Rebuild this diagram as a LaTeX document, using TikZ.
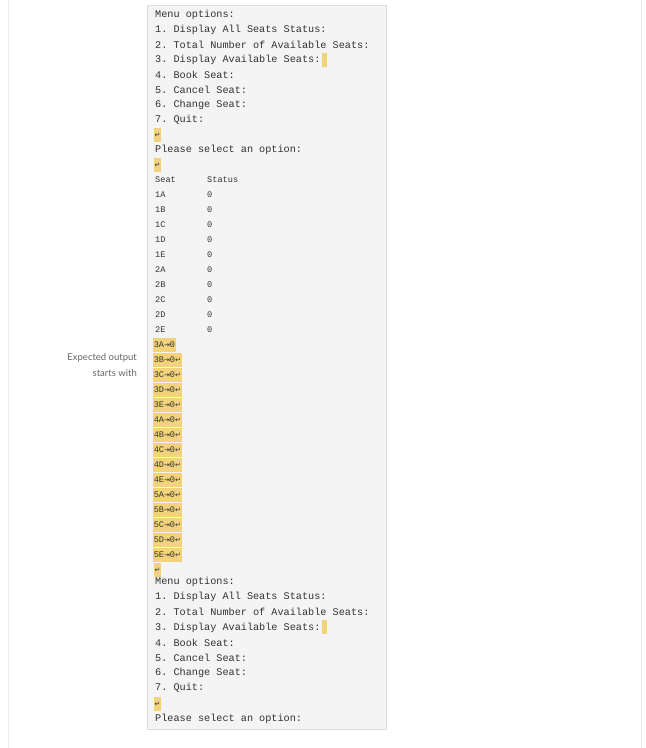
\documentclass[tikz,border=0pt]{standalone}
\usepackage{fontspec}
\setmonofont{Liberation Mono}
\newfontfamily\symf{DejaVu Sans}
\newfontfamily\labf{Lato}
\definecolor{boxbg}{HTML}{F4F4F4}
\definecolor{boxln}{HTML}{DDDDDD}
\definecolor{hl}{HTML}{F2D27A}
\definecolor{txt}{HTML}{333333}
\begin{document}
\begin{tikzpicture}[x=1pt,y=-1pt,
  mono/.style={anchor=west,inner sep=0pt,font=\ttfamily\fontsize{10.2}{10}\selectfont,text=txt},
  small/.style={anchor=west,inner sep=0pt,font=\ttfamily\fontsize{8.6}{8}\selectfont,text=txt},
  hlbox/.style={anchor=west,inner sep=0.6pt,fill=hl,font=\ttfamily\fontsize{8.6}{8}\selectfont,text=txt,minimum height=14pt},
  lab/.style={anchor=east,inner sep=0pt,font=\labf\fontsize{9.5}{10}\selectfont,text=black!60}]
\useasboundingbox (0,0) rectangle (646,748);
\draw[boxln!60,line width=0.5pt] (8,0) -- (8,748) (641,0) -- (641,748);
\draw[boxln,fill=boxbg] (147,5) rectangle (386,729);
\newcommand{\ret}{{\symf\fontsize{7}{7}\selectfont ↵}}
\newcommand{\tabg}{{\symf\fontsize{7}{7}\selectfont ⇥}}
\foreach \t [count=\i] in {Menu options:,1. Display All Seats Status:,2. Total Number of Available Seats:,3. Display Available Seats:,4. Book Seat:,5. Cancel Seat:,6. Change Seat:,7. Quit:}
  \node[mono] (a\i) at (155,{15*\i}) {\t};
\fill[hl] (a4.east) ++(1,-7) rectangle ++(5,14);
\node[hlbox,inner sep=0.4pt] (r1) at (154,135) {\ret};
\node[mono] (p1) at (155,150) {Please select an option:};
\node[hlbox,inner sep=0.4pt] (r2) at (154,165) {\ret};
\node[small] (sh) at (155,180) {Seat};
\node[small] (st) at (207,180) {Status};
\foreach \s [count=\i] in {1A,1B,1C,1D,1E,2A,2B,2C,2D,2E} {
  \node[small] (s\i) at (155,{180+15*\i}) {\s};
  \node[small] (v\i) at (207,{180+15*\i}) {0};
}
\node[hlbox] (h1) at (153,345) {3A\tabg0};
\foreach \s [count=\i from 2] in {3B,3C,3D,3E,4A,4B,4C,4D,4E,5A,5B,5C,5D,5E}
  \node[hlbox] (h\i) at (153,{330+15*\i}) {\s\tabg0\ret};
\node[hlbox,inner sep=0.4pt] (r3) at (154,570) {\ret};
\foreach \t [count=\i] in {Menu options:,1. Display All Seats Status:,2. Total Number of Available Seats:,3. Display Available Seats:,4. Book Seat:,5. Cancel Seat:,6. Change Seat:,7. Quit:}
  \node[mono] (b\i) at (155,{567+15.1*\i}) {\t};
\fill[hl] (b4.east) ++(1,-7) rectangle ++(5,14);
\node[hlbox,inner sep=0.4pt] (r4) at (154,704) {\ret};
\node[mono] (p2) at (155,719) {Please select an option:};
\node[lab] (l1) at (137,358) {Expected output};
\node[lab] (l2) at (137,373) {starts with};
\end{tikzpicture}
\end{document}
